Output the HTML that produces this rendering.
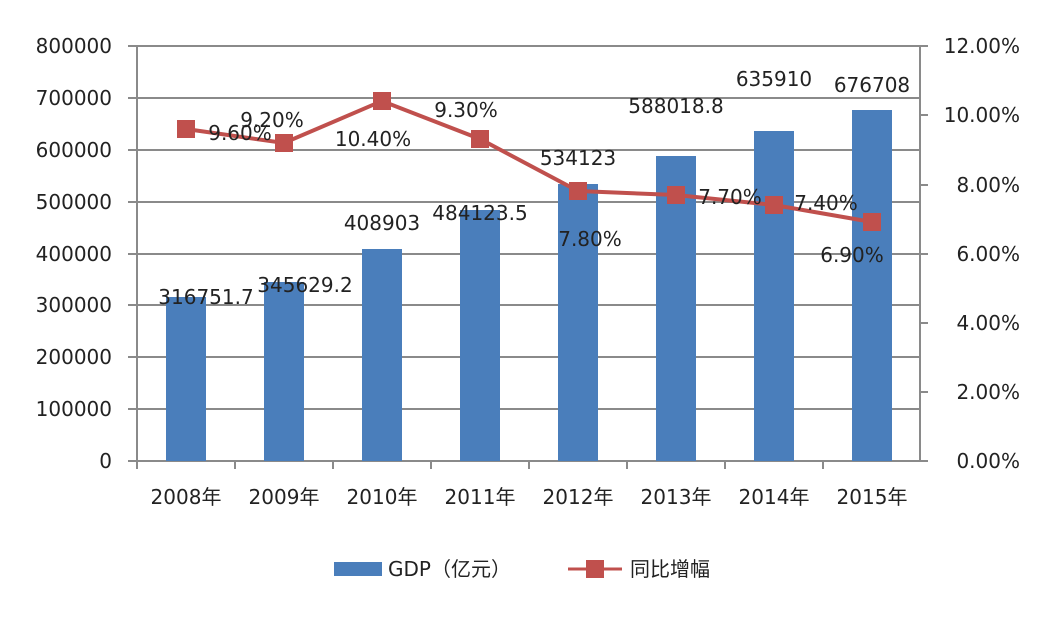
<!DOCTYPE html>
<html><head><meta charset="utf-8"><style>
body{margin:0;background:#fff}
svg text{font-family:"DejaVu Sans","Noto Sans CJK SC",sans-serif;font-size:20px;fill:#222}
</style></head><body>
<svg width="1043" height="613" viewBox="0 0 1043 613">
<g stroke="#8a8a8a" stroke-width="2">
<line x1="128" y1="46" x2="920" y2="46"/><line x1="128" y1="98" x2="920" y2="98"/>
<line x1="128" y1="150" x2="920" y2="150"/><line x1="128" y1="202" x2="920" y2="202"/>
<line x1="128" y1="254" x2="920" y2="254"/><line x1="128" y1="305" x2="920" y2="305"/>
<line x1="128" y1="357" x2="920" y2="357"/><line x1="128" y1="409" x2="920" y2="409"/>
<line x1="128" y1="461" x2="928" y2="461"/>
<line x1="137" y1="46" x2="137" y2="461"/><line x1="920" y1="46" x2="920" y2="461"/>
<line x1="920" y1="46" x2="928" y2="46"/><line x1="920" y1="115" x2="928" y2="115"/><line x1="920" y1="185" x2="928" y2="185"/><line x1="920" y1="254" x2="928" y2="254"/><line x1="920" y1="323" x2="928" y2="323"/><line x1="920" y1="392" x2="928" y2="392"/>
<line x1="235" y1="461" x2="235" y2="469"/><line x1="333" y1="461" x2="333" y2="469"/><line x1="431" y1="461" x2="431" y2="469"/><line x1="529" y1="461" x2="529" y2="469"/><line x1="627" y1="461" x2="627" y2="469"/><line x1="725" y1="461" x2="725" y2="469"/><line x1="823" y1="461" x2="823" y2="469"/><line x1="137" y1="461" x2="137" y2="469"/>
</g>
<g fill="#4a7ebb">
<rect x="166" y="297" width="40" height="164"/><rect x="264" y="282" width="40" height="179"/>
<rect x="362" y="249" width="40" height="212"/><rect x="460" y="210" width="40" height="251"/>
<rect x="558" y="184" width="40" height="277"/><rect x="656" y="156" width="40" height="305"/>
<rect x="754" y="131" width="40" height="330"/><rect x="852" y="110" width="40" height="351"/>
</g>
<polyline fill="none" stroke="#c0504d" stroke-width="4" points="186,129 284,143 382,101 480,139 578,191 676,195 774,205 872,222"/>
<g fill="#c0504d">
<rect x="177" y="120" width="18" height="18"/><rect x="275" y="134" width="18" height="18"/><rect x="373" y="92" width="18" height="18"/><rect x="471" y="130" width="18" height="18"/><rect x="569" y="182" width="18" height="18"/><rect x="667" y="186" width="18" height="18"/><rect x="765" y="196" width="18" height="18"/><rect x="863" y="213" width="18" height="18"/>
</g>
<g text-anchor="end">
<text x="112" y="53">800000</text><text x="112" y="105">700000</text><text x="112" y="157">600000</text><text x="112" y="209">500000</text><text x="112" y="261">400000</text><text x="112" y="312">300000</text><text x="112" y="364">200000</text><text x="112" y="416">100000</text><text x="112" y="468">0</text>
</g>
<g text-anchor="end">
<text x="1020" y="53">12.00%</text><text x="1020" y="122">10.00%</text><text x="1020" y="192">8.00%</text><text x="1020" y="261">6.00%</text><text x="1020" y="330">4.00%</text><text x="1020" y="399">2.00%</text><text x="1020" y="468">0.00%</text>
</g>
<g text-anchor="middle">
<text x="186" y="504">2008年</text><text x="284" y="504">2009年</text><text x="382" y="504">2010年</text><text x="480" y="504">2011年</text><text x="578" y="504">2012年</text><text x="676" y="504">2013年</text><text x="774" y="504">2014年</text><text x="872" y="504">2015年</text>
<text x="206" y="304">316751.7</text><text x="305" y="292">345629.2</text><text x="382" y="230">408903</text><text x="480" y="220">484123.5</text><text x="578" y="165">534123</text><text x="676" y="113">588018.8</text><text x="774" y="86">635910</text><text x="872" y="92">676708</text>
<text x="240" y="140">9.60%</text><text x="272" y="127">9.20%</text><text x="373" y="146">10.40%</text><text x="466" y="117">9.30%</text><text x="590" y="246">7.80%</text><text x="730" y="204">7.70%</text><text x="826" y="210">7.40%</text><text x="852" y="262">6.90%</text>
</g>
<rect x="334" y="562" width="48" height="14" fill="#4a7ebb"/>
<text x="388" y="576">GDP（亿元）</text>
<line x1="568" y1="569" x2="622" y2="569" stroke="#c0504d" stroke-width="3"/>
<rect x="586" y="560" width="18" height="18" fill="#c0504d"/>
<text x="630" y="576">同比增幅</text>
</svg>
</body></html>
